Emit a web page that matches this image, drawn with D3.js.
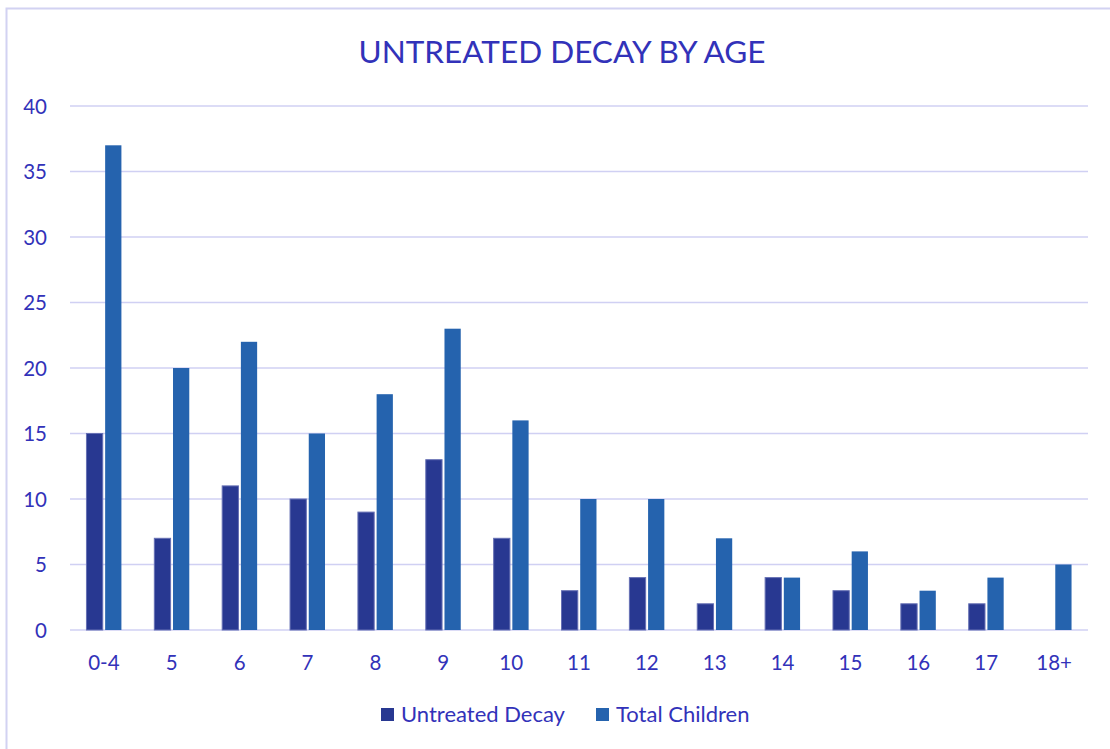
<!DOCTYPE html>
<html><head><meta charset="utf-8">
<script src="https://cdn.jsdelivr.net/npm/d3@7"></script>
<style>
html,body{margin:0;padding:0;background:#fff;}
svg{display:block;font-family:Lato, "Open Sans", sans-serif;}
</style></head>
<body>
<svg id="chart" width="1110" height="749"></svg>
<script>
const categories = ["0-4","5","6","7","8","9","10","11","12","13","14","15","16","17","18+"];
const untreatedDecay = [15,7,11,10,9,13,7,3,4,2,4,3,2,2,null];
const totalChildren = [37,20,22,15,18,23,16,10,10,7,4,6,3,4,5];
const seriesNames = ["Untreated Decay","Total Children"];
const yTicks = [0,5,10,15,20,25,30,35,40];
const colors = ["#283891","#2563ae"];
const textColor = "#3232b9";

(function(){
const svg = d3.select("#chart");
svg.append("rect").attr("x",6.5).attr("y",8.5).attr("width",1120).attr("height",760)
  .attr("fill","none").attr("stroke","#d2d2f2").attr("stroke-width",2);

const pLeft=70, pRight=1088, pTop=106, pBottom=630;
const y = d3.scaleLinear().domain([0,40]).range([pBottom,pTop]);
const x0 = d3.scaleBand().domain(categories).range([pLeft,pRight]).paddingInner(0.485).paddingOuter(0.2425);
const x1 = d3.scaleBand().domain(seriesNames).range([0,x0.bandwidth()]).paddingInner(0.13);

svg.append("g").selectAll("line").data(yTicks).join("line")
  .attr("x1",pLeft).attr("x2",pRight).attr("y1",d=>y(d)).attr("y2",d=>y(d))
  .attr("stroke","#d0d0f3").attr("stroke-width",1.6);

const yAxis = d3.axisLeft(y).tickValues(yTicks).tickSize(0).tickPadding(0);
const gy = svg.append("g").attr("transform","translate(47,0)").call(yAxis);
gy.select(".domain").remove();
gy.selectAll("text").attr("fill",textColor).style("font-size","20.5px").style("font-family","Lato").attr("dy","0.36em");

const xAxis = d3.axisBottom(x0).tickSize(0).tickPadding(0);
const gx = svg.append("g").attr("transform",`translate(0,${pBottom+40})`).call(xAxis);
gx.select(".domain").remove();
gx.selectAll("text").attr("fill",textColor).style("font-size","20.5px").style("font-family","Lato").attr("dy","0");

const data = categories.map((c,i)=>({cat:c, vals:[untreatedDecay[i], totalChildren[i]]}));
const groups = svg.append("g").selectAll("g").data(data).join("g")
  .attr("transform",d=>`translate(${x0(d.cat)},0)`);
groups.selectAll("rect").data(d=>d.vals.map((v,j)=>({v, s:seriesNames[j], j})).filter(e=>e.v!=null))
  .join("rect")
  .attr("x",e=>x1(e.s)).attr("width",x1.bandwidth())
  .attr("y",e=>y(e.v)).attr("height",e=>y(0)-y(e.v))
  .attr("fill",e=>colors[e.j])
  .attr("stroke",e=>e.j===0?"#6670b4":"none").attr("stroke-width",1);

svg.append("text").attr("x",562).attr("y",63).attr("text-anchor","middle")
  .attr("fill",textColor).style("font-size","31.5px").text("UNTREATED DECAY BY AGE");

const legend = svg.append("g");
const legendX = [381,596];
seriesNames.forEach((n,i)=>{
  legend.append("rect").attr("x",legendX[i]).attr("y",708).attr("width",13).attr("height",13).attr("fill",colors[i]);
  legend.append("text").attr("x",legendX[i]+20).attr("y",722).attr("fill",textColor)
    .style("font-size","22px").text(n);
});
})();
</script>
</body></html>
